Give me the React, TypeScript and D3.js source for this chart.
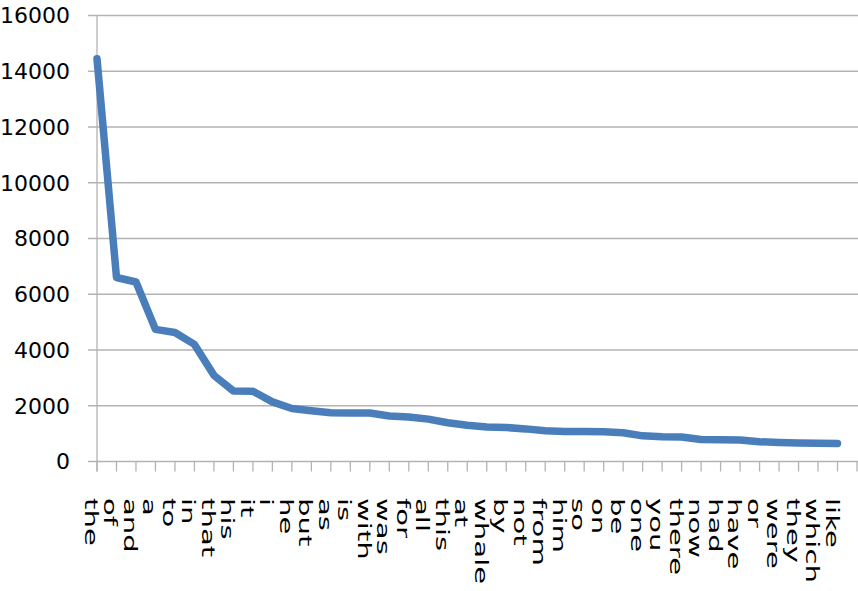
import React, { useEffect, useRef } from "react";
import * as d3 from "d3";

// word frequencies
const words = [
  "the", "of", "and", "a", "to", "in", "that", "his", "it", "i",
  "he", "but", "as", "is", "with", "was", "for", "all", "this", "at",
  "whale", "by", "not", "from", "him", "so", "on", "be", "one", "you",
  "there", "now", "had", "have", "or", "were", "they", "which", "like",
];
const counts = [
  14450, 6600, 6440, 4740, 4630, 4200, 3090, 2530, 2520, 2140,
  1900, 1820, 1750, 1740, 1740, 1630, 1600, 1520, 1390, 1300,
  1240, 1220, 1170, 1100, 1080, 1080, 1070, 1030, 920, 890,
  880, 790, 780, 775, 710, 680, 665, 655, 645,
];
const yTicks = [0, 2000, 4000, 6000, 8000, 10000, 12000, 14000, 16000];

const W = 858;
const H = 591;

const App: React.FC = () => {
  const ref = useRef<SVGSVGElement | null>(null);

  useEffect(() => {
    if (!ref.current) return;
    const svg = d3.select(ref.current);
    svg.selectAll("*").remove();

    const left = 97;
    const right = 857;
    const top = 15.5;
    const bottom = 461.5;

    // one extra tick slot after the last word, like the original axis
    const x = d3.scaleLinear().domain([0, words.length]).range([left, right]);
    const y = d3.scaleLinear().domain([0, 16000]).range([bottom, top]);

    const grid = "#b3b3b3";

    // horizontal gridlines
    svg
      .append("g")
      .selectAll("line")
      .data(yTicks)
      .join("line")
      .attr("x1", left - 9)
      .attr("x2", W)
      .attr("y1", (d) => y(d))
      .attr("y2", (d) => y(d))
      .attr("stroke", grid)
      .attr("stroke-width", 1.3);

    // y axis line
    svg
      .append("line")
      .attr("x1", left)
      .attr("x2", left)
      .attr("y1", top)
      .attr("y2", bottom + 10)
      .attr("stroke", grid)
      .attr("stroke-width", 1.3);

    // category ticks
    svg
      .append("g")
      .selectAll("line")
      .data(d3.range(words.length + 1))
      .join("line")
      .attr("x1", (d) => x(d))
      .attr("x2", (d) => x(d))
      .attr("y1", bottom)
      .attr("y2", bottom + 10)
      .attr("stroke", grid)
      .attr("stroke-width", 1.3);

    // y labels
    svg
      .append("g")
      .selectAll("text")
      .data(yTicks)
      .join("text")
      .attr("x", 70)
      .attr("y", (d) => y(d))
      .attr("dy", "0.36em")
      .attr("text-anchor", "end")
      .style("font-family", "DejaVu Sans")
      .style("font-size", "22px")
      .style("fill", "#000")
      .text((d) => String(d));

    // x labels: turned 90deg clockwise and stretched along the reading direction
    svg
      .append("g")
      .selectAll("text")
      .data(words)
      .join("text")
      .attr("transform", (_, i) => `matrix(0,1.62,-1,0,${x(i) - 12},498)`)
      .style("font-family", "DejaVu Sans")
      .style("font-size", "18px")
      .style("fill", "#000")
      .text((d) => d);

    const line = d3
      .line<number>()
      .x((_, i) => x(i))
      .y((d) => y(d));

    svg
      .append("path")
      .datum(counts)
      .attr("d", line)
      .attr("fill", "none")
      .attr("stroke", "#4a7ebb")
      .attr("stroke-width", 7.5)
      .attr("stroke-linejoin", "round")
      .attr("stroke-linecap", "round");
  }, []);

  return (
    <svg
      ref={ref}
      width={W}
      height={H}
      style={{ position: "absolute", left: 0, top: 0, background: "#fff" }}
    />
  );
};

export default App;
